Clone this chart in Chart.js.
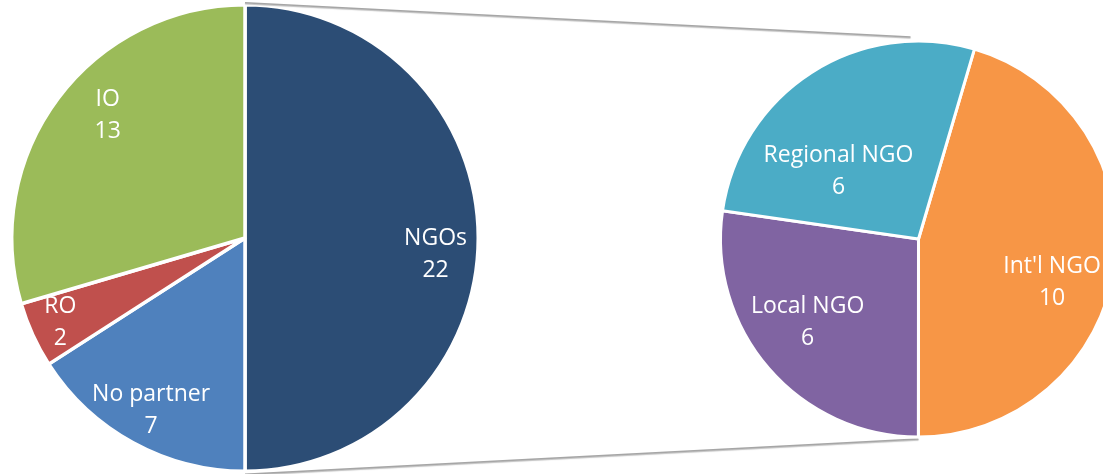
<!DOCTYPE html>
<html>
<head>
<meta charset="utf-8">
<script src="https://cdn.jsdelivr.net/npm/chart.js@4.4.1/dist/chart.umd.min.js"></script>
<style>
  html, body { margin: 0; padding: 0; background: #fff; overflow: hidden; }
  #wrap { position: relative; width: 1103px; height: 474px; overflow: hidden; }
  canvas { position: absolute; left: 0; top: 0; }
</style>
</head>
<body>
<div id="wrap">
  <canvas id="mainPie" width="1103" height="474"></canvas>
  <canvas id="subPie" width="1140" height="474"></canvas>
</div>
<script>
// ==============================
// DATA
// ==============================
const mainLabels = ["NGOs", "No partner", "RO", "IO"];
const mainValues = [22, 7, 2, 13];
const mainColors = ["#2c4d75", "#4f81bd", "#c0504d", "#9bbb59"];

const subLabels = ["Int'l NGO", "Local NGO", "Regional NGO"];
const subValues = [10, 6, 6];
const subColors = ["#f79646", "#8064a2", "#4bacc6"];

// label placement (fraction of radius, angle shift in degrees)
const mainLabelRadius = [0.82, 0.84, 0.87, 0.79];
const mainLabelShift = [5, 0, 0, 5];
const subLabelRadius = [0.71, 0.70, 0.53];
const subLabelShift = [10, 4, -17];

const FONT = "'Open Sans', Lato, sans-serif";

Chart.defaults.animation = false;

// ==============================
// LABEL PLUGIN
// ==============================
function labelPlugin(radii, shifts) {
  return {
    id: "sliceLabels",
    afterDatasetsDraw(chart) {
      const ctx = chart.ctx;
      const meta = chart.getDatasetMeta(0);
      ctx.save();
      ctx.fillStyle = "#ffffff";
      ctx.font = "23px " + FONT;
      ctx.textAlign = "center";
      ctx.textBaseline = "middle";
      meta.data.forEach((arc, i) => {
        const mid = (arc.startAngle + arc.endAngle) / 2 + shifts[i] * Math.PI / 180;
        const r = arc.outerRadius * radii[i];
        const x = arc.x + Math.cos(mid) * r;
        const y = arc.y + Math.sin(mid) * r;
        ctx.fillText(chart.data.labels[i], x, y - 16);
        ctx.fillText(String(chart.data.datasets[0].data[i]), x, y + 16);
      });
      ctx.restore();
    },
  };
}

// ==============================
// MAIN PIE (LEFT)
// ==============================
const mainChart = new Chart(document.getElementById("mainPie"), {
  type: "pie",
  data: {
    labels: mainLabels,
    datasets: [{
      data: mainValues,
      backgroundColor: mainColors,
      borderColor: "#ffffff",
      borderWidth: 3.5,
    }],
  },
  options: {
    responsive: false,
    layout: { padding: { left: 10, right: 623, top: 3, bottom: 1 } },
    plugins: { legend: { display: false }, tooltip: { enabled: false } },
  },
  plugins: [labelPlugin(mainLabelRadius, mainLabelShift)],
});

// ==============================
// CONNECTOR LINES
// ==============================
const connectorPlugin = {
  id: "connectors",
  beforeDatasetsDraw(chart) {
    const a = mainChart.getDatasetMeta(0).data[0];
    const b = chart.getDatasetMeta(0).data[0];
    const ctx = chart.ctx;
    ctx.save();
    ctx.strokeStyle = "#a6a6a6";
    ctx.lineWidth = 1.6;
    ctx.shadowColor = "rgba(0,0,0,0.25)";
    ctx.shadowOffsetY = 1;
    ctx.shadowBlur = 1;
    ctx.beginPath();
    ctx.moveTo(a.x, a.y - a.outerRadius - 2);
    ctx.lineTo(b.x - 8, b.y - b.outerRadius - 4);
    ctx.moveTo(a.x, a.y + a.outerRadius + 3);
    ctx.lineTo(b.x, b.y + b.outerRadius + 2);
    ctx.stroke();
    ctx.restore();
  },
};

// ==============================
// SUB PIE (RIGHT)
// ==============================
const subChart = new Chart(document.getElementById("subPie"), {
  type: "pie",
  data: {
    labels: subLabels,
    datasets: [{
      data: subValues,
      backgroundColor: subColors,
      borderColor: "#ffffff",
      borderWidth: 3,
    }],
  },
  options: {
    responsive: false,
    rotation: 16.4,
    layout: { padding: { left: 719, right: 22, top: 39, bottom: 35 } },
    plugins: { legend: { display: false }, tooltip: { enabled: false } },
  },
  plugins: [connectorPlugin, labelPlugin(subLabelRadius, subLabelShift)],
});
</script>
</body>
</html>
